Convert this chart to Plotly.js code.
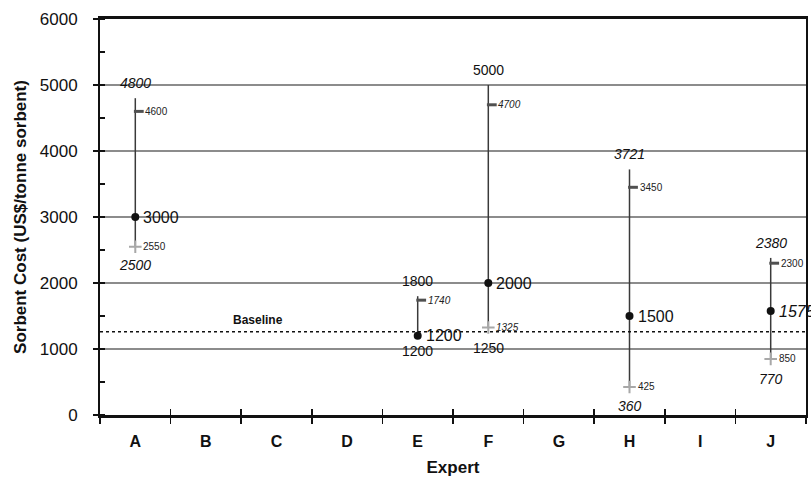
<!DOCTYPE html>
<html>
<head>
<meta charset="utf-8">
<script src="https://cdn.plot.ly/plotly-3.0.1.min.js"></script>
<style>html,body{margin:0;padding:0;background:#fff;}#chart{width:811px;height:480px;}</style>
</head>
<body>
<div id="chart"></div>
<script>
// ---- data ----
var experts = ['A','B','C','D','E','F','G','H','I','J'];
var rated = ['A','E','F','H','J'];
var highVals = [4800, 1800, 5000, 3721, 2380];
var upperVals = [4600, 1740, 4700, 3450, 2300];
var medianVals = [3000, 1200, 2000, 1500, 1575];
var lowerVals = [2550, null, 1325, 425, 850];
var lowVals = [2500, 1200, 1250, 360, 770];
var baseline = 1260;
var yTicks = [0, 1000, 2000, 3000, 4000, 5000, 6000];

// ---- label styles (italic flags) ----
var highItalic = [true, false, false, true, true];
var upperItalic = [false, true, true, false, false];
var medianItalic = [false, false, false, false, true];
var lowerItalic = [false, false, true, false, false];
var lowItalic = [true, false, false, true, true];

var W = 811, H = 480, ML = 100, MR = 5, MT = 19, MB = 65;
var pxPerUnit = (W - ML - MR) / experts.length;
var FONT = 'Liberation Sans, Arial, Helvetica, sans-serif';

var idx = rated.map(function (e) { return experts.indexOf(e); });
var boundaries = [];
for (var b = 0; b <= experts.length; b++) boundaries.push(b - 0.5);

var lx = [], ly = [];
idx.forEach(function (xi, k) {
  var end = lowerVals[k] !== null ? lowerVals[k] : medianVals[k];
  lx.push(xi, xi, null);
  ly.push(highVals[k], end, null);
});

var dashOffset = 3.5 / pxPerUnit;
var lowerX = [], lowerY = [];
idx.forEach(function (xi, k) { if (lowerVals[k] !== null) { lowerX.push(xi); lowerY.push(lowerVals[k]); } });

var traces = [
  { type: 'scatter', mode: 'lines', x: lx, y: ly, line: { color: '#3a3a3a', width: 1.5 }, hoverinfo: 'skip', showlegend: false },
  { type: 'scatter', mode: 'markers', x: idx.map(function (v) { return v + dashOffset; }), y: upperVals,
    marker: { symbol: 'line-ew', size: 7, line: { width: 3, color: '#505050' } }, hoverinfo: 'skip', showlegend: false },
  { type: 'scatter', mode: 'markers', x: lowerX, y: lowerY,
    marker: { symbol: 'cross-thin', size: 9, line: { width: 2, color: '#a8a8a8' } }, hoverinfo: 'skip', showlegend: false },
  { type: 'scatter', mode: 'markers', x: idx, y: medianVals,
    marker: { symbol: 'circle', size: 8, color: '#111' }, hoverinfo: 'skip', showlegend: false },
  { type: 'scatter', mode: 'markers', x: [], y: [], xaxis: 'x2', hoverinfo: 'skip', showlegend: false }
];

function fmt(v, it) { return it ? '<i>' + v + '</i>' : String(v); }

var ann = [];
idx.forEach(function (xi, k) {
  ann.push({ x: xi, y: highVals[k], xref: 'x', yref: 'y', text: fmt(highVals[k], highItalic[k]), showarrow: false,
    xanchor: 'center', yanchor: 'middle', yshift: 15, font: { family: FONT, size: 14, color: '#111' } });
  ann.push({ x: xi, y: upperVals[k], xref: 'x', yref: 'y', text: fmt(upperVals[k], upperItalic[k]), showarrow: false,
    xanchor: 'left', yanchor: 'middle', xshift: 8, font: { family: FONT, size: 10, color: '#222' } });
  ann.push({ x: xi, y: medianVals[k], xref: 'x', yref: 'y', text: fmt(medianVals[k], medianItalic[k]), showarrow: false,
    xanchor: 'left', yanchor: 'middle', xshift: 6, font: { family: FONT, size: 16, color: '#111' } });
  if (lowerVals[k] !== null) {
    ann.push({ x: xi, y: lowerVals[k], xref: 'x', yref: 'y', text: fmt(lowerVals[k], lowerItalic[k]), showarrow: false,
      xanchor: 'left', yanchor: 'middle', xshift: 6, font: { family: FONT, size: 10, color: '#222' } });
  }
  ann.push({ x: xi, y: lowVals[k], xref: 'x', yref: 'y', text: fmt(lowVals[k], lowItalic[k]), showarrow: false,
    xanchor: 'center', yanchor: 'middle', yshift: -15, font: { family: FONT, size: 14, color: '#111' } });
});
ann.push({ x: 0.224, xref: 'paper', y: baseline, yref: 'y', text: '<b>Baseline</b>', showarrow: false,
  xanchor: 'center', yanchor: 'middle', yshift: 12, font: { family: FONT, size: 12, color: '#111' } });

var layout = {
  width: W, height: H,
  margin: { l: ML, r: MR, t: MT, b: MB, pad: 0 },
  paper_bgcolor: '#fff', plot_bgcolor: '#fff',
  font: { family: FONT, color: '#111' },
  showlegend: false,
  xaxis: {
    type: 'linear', range: [-0.5, experts.length - 0.5], fixedrange: true,
    tickmode: 'array', tickvals: experts.map(function (e, i) { return i; }), ticktext: experts.map(function (e) { return '<b>' + e + '</b>'; }),
    ticks: '', tickfont: { family: FONT, size: 16, color: '#111' }, ticklabelstandoff: 10,
    minor: { tickmode: 'array', tickvals: boundaries, ticks: 'outside', ticklen: 6, tickwidth: 1.5, tickcolor: '#111', showgrid: false },
    showgrid: false, zeroline: false,
    showline: true, linecolor: '#111', linewidth: 3, mirror: true,
    title: { text: '<b>Expert</b>', font: { family: FONT, size: 17, color: '#111' }, standoff: 12 }
  },
  xaxis2: {
    overlaying: 'x', anchor: 'y', side: 'bottom', range: [-0.5, experts.length - 0.5], fixedrange: true,
    tickmode: 'array', tickvals: boundaries, ticks: 'inside', ticklen: 6, tickwidth: 1.5, tickcolor: '#111',
    showticklabels: false, showgrid: false, zeroline: false, showline: false
  },
  yaxis: {
    range: [0, 6000], fixedrange: true, tickmode: 'array', tickvals: yTicks,
    ticks: 'outside', ticklen: 5, tickwidth: 1.5, tickcolor: '#111', ticklabelstandoff: 12,
    tickfont: { family: FONT, size: 17, color: '#111' },
    minor: { dtick: 500, tick0: 0, ticks: 'inside', ticklen: 5, tickwidth: 1.5, tickcolor: '#111', showgrid: false },
    showgrid: true, gridcolor: '#8c8c8c', gridwidth: 1.5, zeroline: false,
    showline: true, linecolor: '#111', linewidth: 2, mirror: true,
    title: { text: '<b>Sorbent Cost (US$/tonne sorbent)</b>', font: { family: FONT, size: 17, color: '#111' }, standoff: 9 }
  },
  shapes: [
    { type: 'line', xref: 'paper', x0: 0, x1: 1, yref: 'y', y0: baseline, y1: baseline,
      line: { color: '#111', width: 1.5, dash: 'dot' } }
  ],
  annotations: ann
};

Plotly.newPlot('chart', traces, layout, { displayModeBar: false, staticPlot: true });
</script>
</body>
</html>
